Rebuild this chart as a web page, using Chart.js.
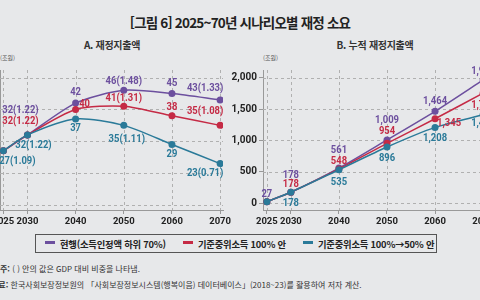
<!DOCTYPE html>
<html lang="ko">
<head>
<meta charset="utf-8">
<script src="https://cdn.jsdelivr.net/npm/chart.js@4/dist/chart.umd.min.js"></script>
<style>
    html, body {
        margin: 0;
        padding: 0;
        width: 480px;
        height: 300px;
        overflow: hidden;
        background: #e7e8ea;
        font-family: "Noto Sans CJK KR", "Noto Sans", sans-serif;
        color: #222;
        position: relative;
    }
    .abs { position: absolute; white-space: nowrap; }
    .title { top: 12px; left: 0; width: 480px; text-align: center; font-size: 13.5px; font-weight: 700; letter-spacing: -0.8px; }
    .sub { top: 37px; font-size: 10px; font-weight: 700; color: #333; transform: translateX(-50%); letter-spacing: -0.3px; }
    .unit { top: 53px; font-size: 6px; color: #555; }
    .chart-box { position: absolute; }
    .legend {
        left: 35px; top: 234px; width: 400px; height: 17px;
        border: 1px solid #555;
        font-size: 9.3px; font-weight: 700; letter-spacing: -0.2px;
    }
    .legend span.item { position: absolute; top: 2px; }
    .legend i { position: absolute; top: 6px; width: 10px; height: 3px; }
    .note { font-size: 8px; color: #333; }
    .note b { font-weight: 700; }
</style>
</head>
<body>

<div class="abs title">[그림 6] 2025~70년 시나리오별 재정 소요</div>
<div class="abs sub" style="left:112px">A. 재정지출액</div>
<div class="abs sub" style="left:375px">B. 누적 재정지출액</div>
<div class="abs unit" style="left:0px">(조원)</div>
<div class="abs unit" style="left:263px">(조원)</div>

<div class="chart-box" style="left:-40px; top:62px; width:278px; height:172px;">
    <canvas id="spendChart"></canvas>
</div>
<div class="chart-box" style="left:218px; top:62px; width:283px; height:172px;">
    <canvas id="cumChart"></canvas>
</div>

<div class="abs legend">
    <i style="left:9px; background:#6c4f9e"></i>
    <span class="item" style="left:24px">현행(소득인정액 하위 70%)</span>
    <i style="left:147px; background:#c52a45"></i>
    <span class="item" style="left:162px">기준중위소득 100% 안</span>
    <i style="left:267px; background:#2a7a99"></i>
    <span class="item" style="left:282px">기준중위소득 100%→50% 안</span>
</div>

<div class="abs note" style="left:0px; top:263px"><b>주:</b> ( ) 안의 값은 GDP 대비 비중을 나타냄.</div>
<div class="abs note" style="left:-9px; top:279px"><b>자료:</b> 한국사회보장정보원의 「사회보장정보시스템(행복이음) 데이터베이스」(2018~23)를 활용하여 저자 계산.</div>

<script>

// years on the x axis
const years = [2025, 2030, 2040, 2050, 2060, 2070];

// A. yearly spending (조원)
const spendCurrent = [27, 32, 42, 46, 45, 43];
const spendMedian100 = [27, 32, 40, 41, 38, 35];
const spendMedian50 = [27, 32, 37, 35, 29, 23];

// share of GDP (%), shown in brackets
const gdpCurrent = [null, 1.22, null, 1.48, null, 1.33];
const gdpMedian100 = [null, 1.22, null, 1.31, null, 1.08];
const gdpMedian50 = [1.09, 1.22, null, 1.11, null, 0.71];

// B. cumulative spending (조원)
const cumCurrent = [27, 178, 561, 1009, 1464, 1963];
const cumMedian100 = [27, 178, 548, 954, 1345, 1752];
const cumMedian50 = [27, 178, 535, 896, 1208, 1409];

// y tick labels
const spendTicks = [10, 20, 30, 40, 50];
const cumTicks = [0, 500, 1000, 1500, 2000];

const PURPLE = "#6c4f9e";
const RED = "#c52a45";
const BLUE = "#2a7a99";

const NUM_FONT = "'Roboto', sans-serif";

// where each value label sits relative to its point (null = no label)
const spendOffsets = {
    current: [null, [-7, -25], [0, -11], [0, -9], [0, -10], [-15, -12]],
    median100: [null, [-7, -14], [9, -5], [0, -8], [0, -9], [-15, -14]],
    median50: [[14, 10], [6, 10], [0, 9], [3, 14], [0, 10], [-15, 10]]
};

const cumOffsets = {
    current: [[0, -8], [0, -17], [0, -18], [0, -20], [0, -10], [0, -9]],
    median100: [null, [0, -8], [0, -8], [0, -12], [14, 4], [0, 12]],
    median50: [null, [0, 11], [0, 12], [0, 11], [0, 11], [0, 8]]
};

function spendText(values, shares) {
    return values.map((v, i) =>
        shares[i] == null ? String(v) : v + "(" + shares[i].toFixed(2) + ")"
    );
}

function cumText(values) {
    return values.map(v => v.toLocaleString("en-US"));
}

function toPoints(values) {
    return values.map((v, i) => ({ x: years[i], y: v }));
}

function makeDataset(values, color, texts, offsets, order) {
    return {
        data: toPoints(values),
        borderColor: color,
        backgroundColor: color,
        borderWidth: 1.5,
        pointRadius: 3.5,
        pointBorderWidth: 0,
        pointBackgroundColor: color,
        tension: 0.25,
        order,
        labelTexts: texts,
        labelOffsets: offsets
    };
}

// value labels next to the points (squeezed a bit, the source font is condensed)
const pointLabels = {

    id: "pointLabels",

    afterDatasetsDraw(chart) {

        const ctx = chart.ctx;
        const squeeze = 0.82;

        ctx.save();
        ctx.font = "bold 11.5px " + NUM_FONT;
        ctx.textAlign = "center";
        ctx.textBaseline = "middle";

        chart.data.datasets.forEach((ds, i) => {

            const meta = chart.getDatasetMeta(i);

            meta.data.forEach((pt, j) => {

                const off = ds.labelOffsets[j];

                if (!off) {
                    return;
                }

                ctx.save();
                ctx.translate(pt.x + off[0], pt.y + off[1]);
                ctx.scale(squeeze, 1);
                ctx.fillStyle = ds.borderColor;
                ctx.fillText(ds.labelTexts[j], 0, 0);
                ctx.restore();

            });

        });

        ctx.restore();

    }

};

// dashed grid drawn under the lines
const dashedGrid = {

    id: "dashedGrid",

    beforeDatasetsDraw(chart) {

        const { ctx, chartArea, scales } = chart;

        ctx.save();
        ctx.strokeStyle = "#b0b0b0";
        ctx.lineWidth = 1;
        ctx.setLineDash([3, 3]);

        scales.x.ticks.forEach(t => {
            const x = Math.round(scales.x.getPixelForValue(t.value)) + 0.5;
            ctx.beginPath();
            ctx.moveTo(x, chartArea.top);
            ctx.lineTo(x, chartArea.bottom);
            ctx.stroke();
        });

        scales.y.ticks.forEach(t => {
            const y = Math.round(scales.y.getPixelForValue(t.value)) + 0.5;
            ctx.beginPath();
            ctx.moveTo(chartArea.left, y);
            ctx.lineTo(chartArea.right, y);
            ctx.stroke();
        });

        ctx.restore();

    }

};

function buildOptions(xMin, xMax, yMin, yMax, yTicks, yWidth) {

    return {

        responsive: true,
        maintainAspectRatio: false,
        animation: false,

        layout: {
            padding: { top: 0, right: 15, bottom: 0, left: 0 }
        },

        plugins: {
            legend: { display: false },
            tooltip: { enabled: false }
        },

        scales: {

            x: {
                type: "linear",
                min: xMin,
                max: xMax,
                afterBuildTicks: scale => {
                    scale.ticks = years.map(v => ({ value: v }));
                },
                afterFit: scale => {
                    scale.height = 24;
                },
                ticks: {
                    autoSkip: false,
                    maxRotation: 0,
                    padding: 2,
                    color: "#222",
                    font: { family: NUM_FONT, size: 9.5, weight: "bold" },
                    callback: v => String(v)
                },
                grid: {
                    drawOnChartArea: false,
                    tickLength: 4,
                    tickColor: "#999"
                },
                border: { color: "#999" }
            },

            y: {
                min: yMin,
                max: yMax,
                afterBuildTicks: scale => {
                    scale.ticks = yTicks.map(v => ({ value: v }));
                },
                afterFit: scale => {
                    scale.width = yWidth;
                },
                ticks: {
                    padding: 2,
                    color: "#222",
                    font: { family: NUM_FONT, size: 10, weight: "bold" },
                    callback: v => v.toLocaleString("en-US")
                },
                grid: {
                    drawOnChartArea: false,
                    tickLength: 4,
                    tickColor: "#999"
                },
                border: { color: "#999" }
            }

        }

    };

}

new Chart(document.getElementById("spendChart"), {

    type: "line",

    data: {
        datasets: [
            makeDataset(spendCurrent, PURPLE, spendText(spendCurrent, gdpCurrent), spendOffsets.current, 2),
            makeDataset(spendMedian100, RED, spendText(spendMedian100, gdpMedian100), spendOffsets.median100, 1),
            makeDataset(spendMedian50, BLUE, spendText(spendMedian50, gdpMedian50), spendOffsets.median50, 0)
        ]
    },

    options: buildOptions(2024.3, 2070.6, 8.43, 52.38, spendTicks, 40),

    plugins: [dashedGrid, pointLabels]

});

new Chart(document.getElementById("cumChart"), {

    type: "line",

    data: {
        datasets: [
            makeDataset(cumCurrent, PURPLE, cumText(cumCurrent), cumOffsets.current, 2),
            makeDataset(cumMedian100, RED, cumText(cumMedian100), cumOffsets.median100, 1),
            makeDataset(cumMedian50, BLUE, cumText(cumMedian50), cumOffsets.median50, 0)
        ]
    },

    options: buildOptions(2024.2, 2070.6, -105, 2120, cumTicks, 45),

    plugins: [dashedGrid, pointLabels]

});

</script>
</body>
</html>
